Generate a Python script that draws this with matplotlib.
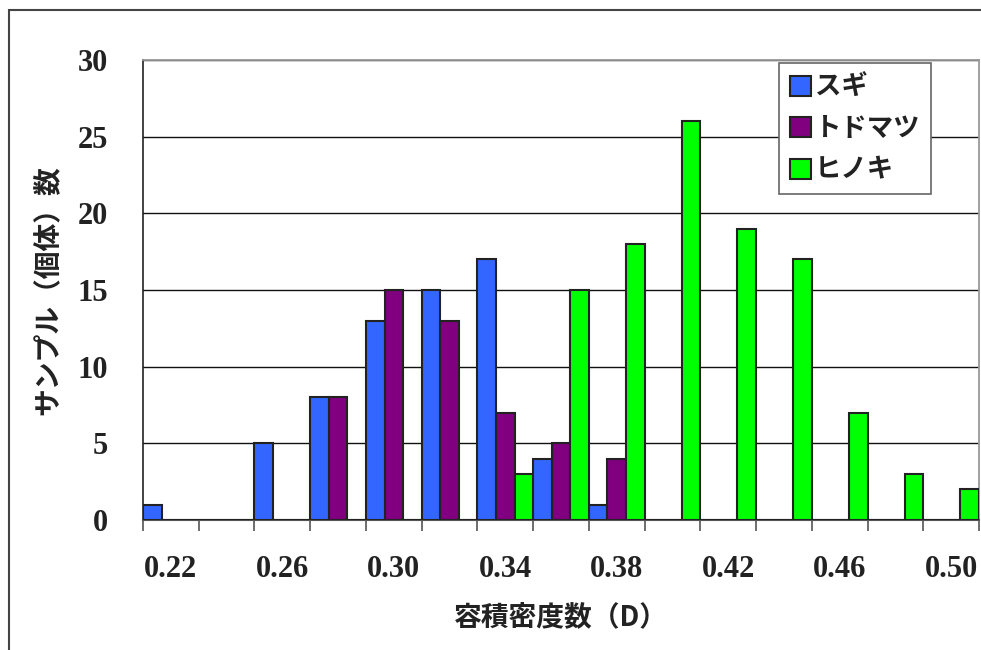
import matplotlib
matplotlib.use("Agg")
import matplotlib.pyplot as plt
from matplotlib.patches import Rectangle
import numpy as np

# 容積密度数の階級 (0.02刻み)
classes = ["0.22", "0.24", "0.26", "0.28", "0.30", "0.32", "0.34", "0.36",
           "0.38", "0.40", "0.42", "0.44", "0.46", "0.48", "0.50"]
sugi = [1, 0, 5, 8, 13, 15, 17, 4, 1, 0, 0, 0, 0, 0, 0]
todomatsu = [0, 0, 0, 8, 15, 13, 7, 5, 4, 0, 0, 0, 0, 0, 0]
hinoki = [0, 0, 0, 0, 0, 0, 3, 15, 18, 26, 19, 17, 7, 3, 2]

series_names = ["スギ", "トドマツ", "ヒノキ"]
series_colors = ["#3366ff", "#800080", "#00ff00"]

JP = ["Noto Sans CJK JP", "DejaVu Sans"]
NUM = ["Liberation Serif"]
TXT = "#222222"

fig = plt.figure(figsize=(9.81, 6.5), dpi=100)
ax = fig.add_axes([143 / 981, 130 / 650, 836 / 981, 460 / 650])

x = np.arange(len(classes))
w = 1 / 3
for i, (vals, name, col) in enumerate(zip([sugi, todomatsu, hinoki], series_names, series_colors)):
    ax.bar(x + (i - 1) * w, vals, width=w, color=col, edgecolor="#222222",
           linewidth=1.5, label=name, zorder=3)

ax.set_xlim(-0.5, len(classes) - 0.5)
ax.set_ylim(0, 30)

# 目盛り線は階級の境界、ラベルは一つおきの階級中央
ax.set_xticks(np.arange(len(classes) + 1) - 0.5)
ax.set_xticklabels([])
ax.tick_params(axis="x", which="major", length=8, width=1.2, color="#555555", direction="out")
ax.set_xticks(x[::2], minor=True)
ax.set_xticklabels(classes[::2], minor=True, fontfamily=NUM, fontweight="bold",
                   fontsize=22, color=TXT)
ax.tick_params(axis="x", which="minor", length=0, pad=25)

ax.set_yticks(range(0, 31, 5))
ax.set_yticklabels([str(v) for v in range(0, 31, 5)], fontfamily=NUM,
                   fontweight="bold", fontsize=22, color=TXT)
ax.tick_params(axis="y", length=0, pad=25)

ax.yaxis.grid(True, color="#111111", linewidth=1.0, zorder=0)
ax.set_axisbelow(True)

ax.spines["left"].set_color("#222222")
ax.spines["left"].set_linewidth(1.2)
ax.spines["bottom"].set_color("#555555")
ax.spines["bottom"].set_linewidth(1.5)
for s in ["top", "right"]:
    ax.spines[s].set_color("#999999")
    ax.spines[s].set_linewidth(1.3)

ax.set_xlabel("容積密度数（D）", fontfamily=JP, fontweight="bold", fontsize=20,
              color=TXT)
ax.xaxis.set_label_coords(0.5, -0.211, transform=ax.transAxes)
ax.xaxis.label.set_va("center")
ax.set_ylabel("サンプル（個体）数", fontfamily=JP, fontweight="bold", fontsize=20,
              color=TXT)
ax.yaxis.set_label_coords(-0.113, 0.5, transform=ax.transAxes)
ax.yaxis.label.set_va("center")

leg = ax.legend(loc="upper left", bbox_to_anchor=(0.761, 0.993), borderaxespad=0,
                prop={"family": JP, "weight": "bold", "size": 19},
                handlelength=0.8, handleheight=0.8, handletextpad=0.15,
                labelspacing=0.55, borderpad=0.4, fancybox=False,
                framealpha=1, edgecolor="#666666")
leg.get_frame().set_linewidth(1.2)
for t in leg.get_texts():
    t.set_color(TXT)

# 図全体の外枠
fig.add_artist(Rectangle((9 / 981, -0.1), 1.2, 1 - 10 / 650 + 0.1,
                         transform=fig.transFigure, fill=False,
                         edgecolor="#444444", linewidth=1.5))

fig.savefig("out.png", dpi=100)
